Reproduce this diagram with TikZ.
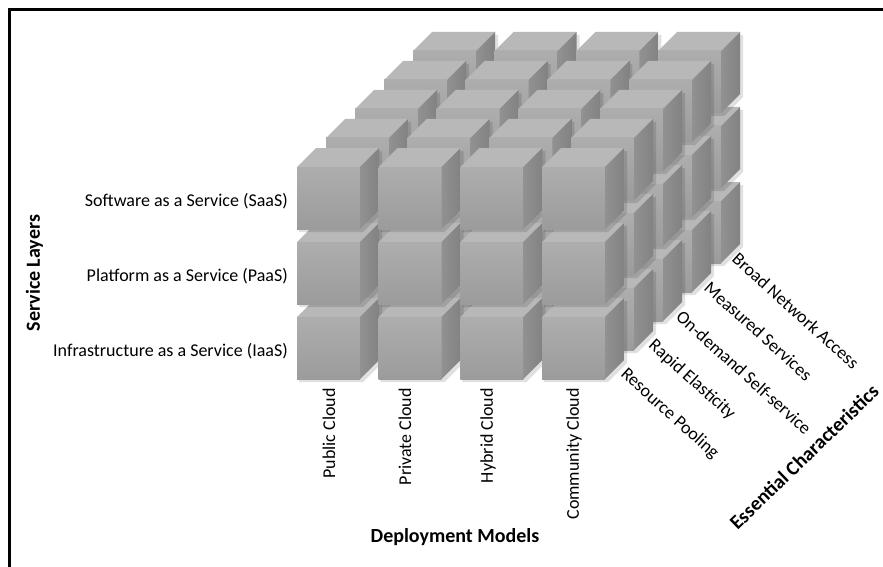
\documentclass[tikz,border=0pt]{standalone}
\usepackage{fontspec}
\setmainfont{Carlito}
\definecolor{frontT}{gray}{0.68}
\definecolor{frontB}{gray}{0.61}
\definecolor{topF}{gray}{0.72}
\definecolor{sideL}{gray}{0.57}
\definecolor{sideR}{gray}{0.51}
\newcommand\cubeat[2]{%
  \begin{scope}[shift={(#1,#2)}]
    \fill[black, opacity=0.12] (2,3) -- (21,-16) -- (85,-16) -- (85,46) -- (66,65) -- (2,65) -- cycle;
    \fill[topF] (0,0) -- (19,-19) -- (82,-19) -- (63,0) -- cycle;
    \shade[top color=frontT, bottom color=frontB] (0,0) rectangle (63,62);
    \shade[left color=sideL, right color=sideR] (63,0) -- (82,-19) -- (82,43) -- (63,62) -- cycle;
  \end{scope}}
\begin{document}
\begin{tikzpicture}[x=1pt,y=-1pt,
  lab/.style={font=\fontsize{18}{20}\selectfont, inner sep=0pt},
  blab/.style={font=\fontsize{20}{22}\selectfont\bfseries, inner sep=0pt}]
\useasboundingbox (0,0) rectangle (883,567);
\clip (0,0) rectangle (883,567);
\fill[white] (0,0) rectangle (883,567);
\draw[line width=2.6pt] (9.3,600) -- (9.3,9.3) -- (900,9.3);
% cubes: layers back to front, rows bottom to top, columns left to right
\foreach \k in {4,3,2,1,0}{
  \foreach \r in {2,1,0}{
    \foreach \c in {0,1,2,3}{
      \pgfmathsetmacro\xx{297+81.7*\c+29*\k}
      \pgfmathsetmacro\yy{167+75*\r-29*\k}
      \cubeat{\xx}{\yy}
    }
  }
}
% service layers
\node[lab, anchor=east] (saas) at (288,201) {Software as a Service (SaaS)};
\node[lab, anchor=east] (paas) at (288,276) {Platform as a Service (PaaS)};
\node[lab, anchor=east] (iaas) at (288,351) {Infrastructure as a Service (IaaS)};
\node[blab, rotate=90] (sl) at (34.5,273) {Service Layers};
% deployment models
\node[lab, rotate=90, anchor=east] (pub) at (329,388) {Public Cloud};
\node[lab, rotate=90, anchor=east] (pri) at (405,388) {Private Cloud};
\node[lab, rotate=90, anchor=east] (hyb) at (488,388) {Hybrid Cloud};
\node[lab, rotate=90, anchor=east] (com) at (574,388) {Community Cloud};
\node[blab] (dm) at (455,537) {Deployment Models};
% essential characteristics
\node[lab, rotate=-42, anchor=west] (rp) at (623,372) {Resource Pooling};
\node[lab, rotate=-42, anchor=west] (re) at (651,343) {Rapid Elasticity};
\node[lab, rotate=-42, anchor=west] (od) at (679,314) {On-demand Self-service};
\node[lab, rotate=-42, anchor=west] (ms) at (707,285) {Measured Services};
\node[lab, rotate=-42, anchor=west] (bn) at (735,256) {Broad Network Access};
\node[blab, rotate=44] (ec) at (804,457) {Essential Characteristics};
\end{tikzpicture}
\end{document}
